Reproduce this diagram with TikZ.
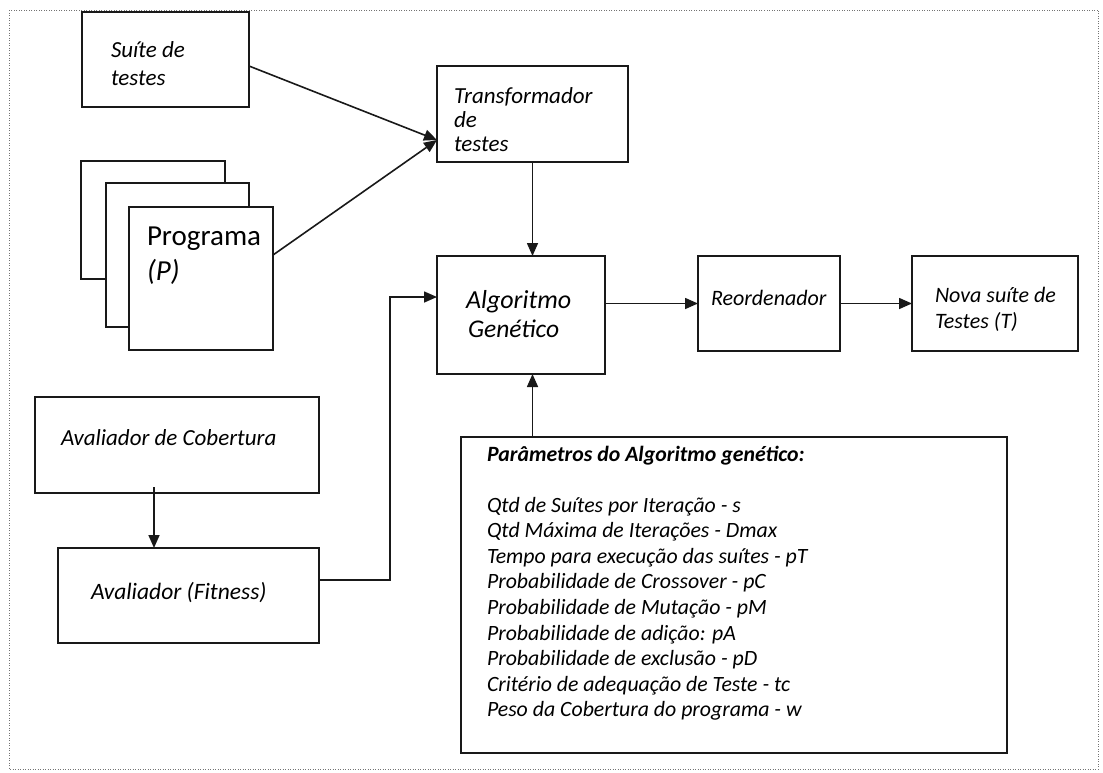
\documentclass[tikz,border=0pt]{standalone}
\usepackage{fontspec}
\setmainfont{Carlito}
\usetikzlibrary{arrows.meta,calc}
\begin{document}
\begin{tikzpicture}[x=1pt,y=-1pt,
  blk/.style={draw=black!90,line width=1.7pt,fill=white,inner sep=0pt,outer sep=0pt},
  txt/.style={anchor=base west,inner sep=0pt,outer sep=0pt,font=\fontsize{23}{27}\selectfont\itshape},
  arr/.style={draw=black!90,line width=1.6pt,-{Triangle[length=13pt,width=11pt]}},
  outerframe/.style={draw=black!55,line width=1pt,dash pattern=on 1pt off 1.5pt}]
\useasboundingbox (0,0) rectangle (1103,772);
\draw[outerframe] (9,10) rectangle (1098,769);

% boxes
\node[blk,minimum width=167pt,minimum height=95pt] (suite) at (165.5,59.5) {};
\node[blk,minimum width=191pt,minimum height=96pt] (transf) at (532.5,114) {};
\node[blk,minimum width=144pt,minimum height=118pt] (progA) at (153,220) {};
\node[blk,minimum width=143pt,minimum height=144pt] (progB) at (177.5,255) {};
\node[blk,minimum width=144pt,minimum height=143pt] (progC) at (201,278.5) {};
\node[blk,minimum width=168pt,minimum height=118pt] (algo) at (521,315) {};
\node[blk,minimum width=142pt,minimum height=95pt] (reord) at (769,303.5) {};
\node[blk,minimum width=166pt,minimum height=95pt] (nova) at (995,303.5) {};
\node[blk,minimum width=284pt,minimum height=96pt] (cob) at (177,445) {};
\node[blk,minimum width=261pt,minimum height=95pt] (fit) at (188.5,595.5) {};
\node[blk,minimum width=546pt,minimum height=316pt] (params) at (734,595) {};

% labels
\node[txt] (suite1) at (111,57) {Suíte de};
\node[txt] (suite2) at (111,85) {testes};
\node[txt] (tr1) at (454,103) {Transformador};
\node[txt] (tr2) at (454,127) {de};
\node[txt] (tr3) at (454,151) {testes};
\node[txt,font=\fontsize{29}{35}\selectfont] (pg1) at (147,245) {Programa};
\node[txt,font=\fontsize{29}{35}\selectfont\itshape] (pg2) at (147,280) {(P)};
\node[txt,font=\fontsize{26}{30}\selectfont\itshape] (al1) at (466,308) {Algoritmo};
\node[txt,font=\fontsize{25.5}{30}\selectfont\itshape] (al2) at (468,337) {Genético};
\node[txt,font=\fontsize{22}{26}\selectfont\itshape] (re1) at (711,305) {Reordenador};
\node[txt,font=\fontsize{22}{26}\selectfont\itshape] (nv1) at (935,302) {Nova suíte de};
\node[txt,font=\fontsize{22}{26}\selectfont\itshape] (nv2) at (935,328) {Testes (T)};
\node[txt] (cb1) at (61,445) {Avaliador de Cobertura};
\node[txt,font=\fontsize{23.5}{27}\selectfont\itshape] (ft1) at (91,599) {Avaliador (Fitness)};
\node[txt,font=\fontsize{21.8}{25}\selectfont\bfseries\itshape] (ptitle) at (487,461) {Parâmetros do Algoritmo genético:};
\foreach \t [count=\i] in {Qtd de Suítes por Iteração - s,
  Qtd Máxima de Iterações - Dmax,
  Tempo para execução das suítes - pT,
  Probabilidade de Crossover - pC,
  Probabilidade de Mutação - pM,
  Probabilidade de adição: pA,
  Probabilidade de exclusão - pD,
  Critério de adequação de Teste - tc,
  Peso da Cobertura do programa - w}
  \node[txt,font=\fontsize{21.8}{25}\selectfont\itshape] (par\i) at (487,{512+25.6*(\i-1)}) {\t};

% connectors
\coordinate (tin) at ($(transf.west)+(0,26)$);
\draw[arr] ($(suite.east)+(0,6.5)$) -- (tin);
\draw[arr] ($(progC.east)+(0,-23.5)$) -- (tin);
\draw[arr] (transf.south) -- (transf.south |- algo.north);
\draw[arr] (params.north -| transf.south) -- (transf.south |- algo.south);
\draw[arr] (algo.east |- reord.west) -- (reord.west);
\draw[arr] (reord.east) -- (nova.west);
\coordinate (cbout) at ($(cob.south west)+(119,-6)$);
\draw[arr] (cbout) -- (cbout |- fit.north);
\coordinate (fout) at ($(fit.east)+(0,-15.5)$);
\coordinate (ain) at ($(algo.west)+(0,-18)$);
\draw[arr] (fout) -- ++(71,0) |- (ain);
\end{tikzpicture}
\end{document}
